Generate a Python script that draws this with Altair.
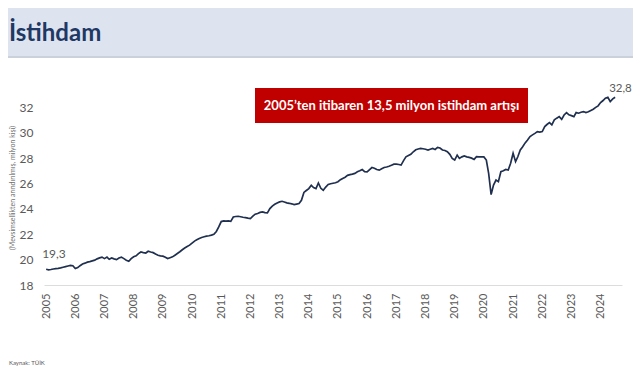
import altair as alt
import pandas as pd

# ---- data (monthly, million persons) ----
employment = [
    19.24, 19.20, 19.22, 19.26, 19.29, 19.31, 19.35, 19.40, 19.45, 19.50, 19.55, 19.52,  # 2005
    19.30, 19.37, 19.52, 19.66, 19.72, 19.80, 19.84, 19.90, 19.96, 20.06, 20.14, 20.20,  # 2006
    20.08, 20.20, 20.03, 20.13, 20.06, 20.00, 20.13, 20.20, 20.08, 19.95, 19.87, 20.08,  # 2007
    20.22, 20.30, 20.47, 20.60, 20.55, 20.52, 20.66, 20.60, 20.55, 20.44, 20.34, 20.29,  # 2008
    20.27, 20.18, 20.08, 20.15, 20.22, 20.35, 20.48, 20.62, 20.78, 20.92, 21.04, 21.14,  # 2009
    21.30, 21.46, 21.56, 21.66, 21.74, 21.80, 21.85, 21.88, 21.93, 22.00, 22.22, 22.58,  # 2010
    23.00, 23.05, 23.03, 23.06, 23.02, 23.36, 23.40, 23.42, 23.38, 23.34, 23.31, 23.27,  # 2011
    23.24, 23.42, 23.58, 23.64, 23.72, 23.76, 23.70, 23.68, 24.02, 24.22, 24.36, 24.47,  # 2012
    24.55, 24.60, 24.54, 24.47, 24.44, 24.40, 24.34, 24.38, 24.42, 24.68, 25.30, 25.45,  # 2013
    25.60, 25.86, 25.68, 25.60, 26.04, 25.62, 25.47, 25.72, 25.92, 25.98, 26.02, 26.06,  # 2014
    26.14, 26.30, 26.40, 26.50, 26.64, 26.70, 26.74, 26.80, 26.92, 27.00, 27.10, 26.94,  # 2015
    26.92, 27.10, 27.26, 27.20, 27.10, 27.05, 27.16, 27.26, 27.30, 27.36, 27.44, 27.52,  # 2016
    27.52, 27.50, 27.45, 27.80, 28.10, 28.20, 28.30, 28.50, 28.66, 28.72, 28.76, 28.74,  # 2017
    28.70, 28.64, 28.70, 28.76, 28.68, 28.85, 28.80, 28.64, 28.60, 28.50, 28.30, 27.98,  # 2018
    27.85, 28.24, 27.98, 28.10, 28.17, 28.10, 28.06, 28.00, 27.90, 28.11, 28.10, 28.11,  # 2019
    28.10, 27.85, 26.79, 25.13, 25.87, 26.27, 26.14, 26.93, 27.00, 27.11, 27.06, 27.59,  # 2020
    28.38, 27.72, 28.11, 28.64, 28.90, 29.20, 29.43, 29.70, 29.83, 29.95, 30.09, 30.05,  # 2021
    30.09, 30.49, 30.65, 30.80, 30.62, 31.01, 31.15, 31.27, 31.06, 31.40, 31.59, 31.41,  # 2022
    31.35, 31.27, 31.59, 31.54, 31.62, 31.67, 31.59, 31.65, 31.75, 31.85, 32.00, 32.12,  # 2023
    32.38, 32.54, 32.73, 32.80, 32.46, 32.67, 32.80,                                      # 2024
]
start_month = "2005-01-01"
tick_years = list(range(2005, 2025))
y_ticks = [18, 20, 22, 24, 26, 28, 30, 32]
end_labels = ["19,3", "32,8"]
page_title = "İstihdam"
y_title = "(Mevsimsellikten arındırılmış, milyon kişi)"
callout = "2005’ten itibaren 13,5 milyon istihdam artışı"
source = "Kaynak: TÜİK"

dates = pd.date_range(start_month, periods=len(employment), freq="MS")
df = pd.DataFrame({"date": dates, "value": employment})
first = pd.DataFrame({"date": [dates[0]], "value": [employment[0]], "label": [end_labels[0]]})
last = pd.DataFrame({"date": [dates[-1]], "value": [employment[-1]], "label": [end_labels[1]]})
one = pd.DataFrame({"k": [0]})

W, H = 578, 203
FONT = "Lato"
GREY = "#595959"

x_scale = alt.Scale(domain=[alt.DateTime(year=2004, month=12, date=5),
                            alt.DateTime(year=2024, month=9, date=25)])
y_scale = alt.Scale(domain=[18, 34], nice=False)

x_axis = alt.Axis(values=[alt.DateTime(year=y, month=1, date=1) for y in tick_years],
                  format="%Y", labelAngle=270, labelAlign="right",
                  labelBaseline="middle", labelPadding=8, ticks=False,
                  domain=True, domainColor="#dcdcdc", domainWidth=1,
                  grid=False, labelFont=FONT, labelFontSize=11,
                  labelColor=GREY, title=None, labelOverlap=False)
y_axis = alt.Axis(values=y_ticks, ticks=False, domain=False, grid=False,
                  labelFont=FONT, labelFontSize=12, labelColor=GREY,
                  labelPadding=11, labelOverlap=False, title=y_title, titleFont=FONT,
                  titleFontSize=7, titleFontWeight="normal",
                  titleColor="#6f6f6f", titleAngle=270, titleX=-32,
                  titleY=H / 2 + 4, titleAlign="center", titleBaseline="middle")

X = alt.X("date:T", scale=x_scale, axis=x_axis)
Y = alt.Y("value:Q", scale=y_scale, axis=y_axis)

line = alt.Chart(df).mark_line(color="#1f2f4f", strokeWidth=1.7).encode(x=X, y=Y)

lab_first = alt.Chart(first).mark_text(
    font=FONT, fontSize=12, color=GREY, align="left", baseline="bottom", dx=-4, dy=-8
).encode(x=X, y=Y, text="label:N")

lab_last = alt.Chart(last).mark_text(
    font=FONT, fontSize=11.5, color=GREY, align="left", baseline="middle", dx=-6, dy=-8
).encode(x=X, y=Y, text="label:N")

band = alt.Chart(one).mark_rect(color="#dde4ef").encode(
    x=alt.value(-44), x2=alt.value(W + 20), y=alt.value(-82), y2=alt.value(-26))
band_line = alt.Chart(one).mark_rule(color="#b9c2cf", strokeWidth=1.5).encode(
    x=alt.value(-44), x2=alt.value(W + 20), y=alt.value(-25))
title = alt.Chart(one).mark_text(
    text=page_title, font=FONT, fontSize=24, fontWeight="bold", color="#1f3864",
    align="left", baseline="alphabetic").encode(x=alt.value(-35), y=alt.value(-41.5))

box = alt.Chart(one).mark_rect(color="#c00000").encode(
    x=alt.value(211), x2=alt.value(484), y=alt.value(6), y2=alt.value(41))
box_text = alt.Chart(one).mark_text(
    text=callout, font=FONT, fontSize=13, fontWeight="bold", color="white",
    align="center", baseline="middle").encode(x=alt.value(347.5), y=alt.value(23.5))

src = alt.Chart(one).mark_text(
    text=source, font=FONT, fontSize=6, color=GREY, align="left",
    baseline="middle").encode(x=alt.value(-35), y=alt.value(281))

chart = alt.layer(line, lab_first, lab_last, band, band_line, title, box, box_text, src).properties(
    width=W, height=H,
    autosize=alt.AutoSizeParams(type="none"),
    padding={"left": 36, "top": 74, "right": 11, "bottom": 83},
    background="white",
).configure_view(stroke=None)

chart.save("out.html", embed_options={"renderer": "svg", "actions": False})
